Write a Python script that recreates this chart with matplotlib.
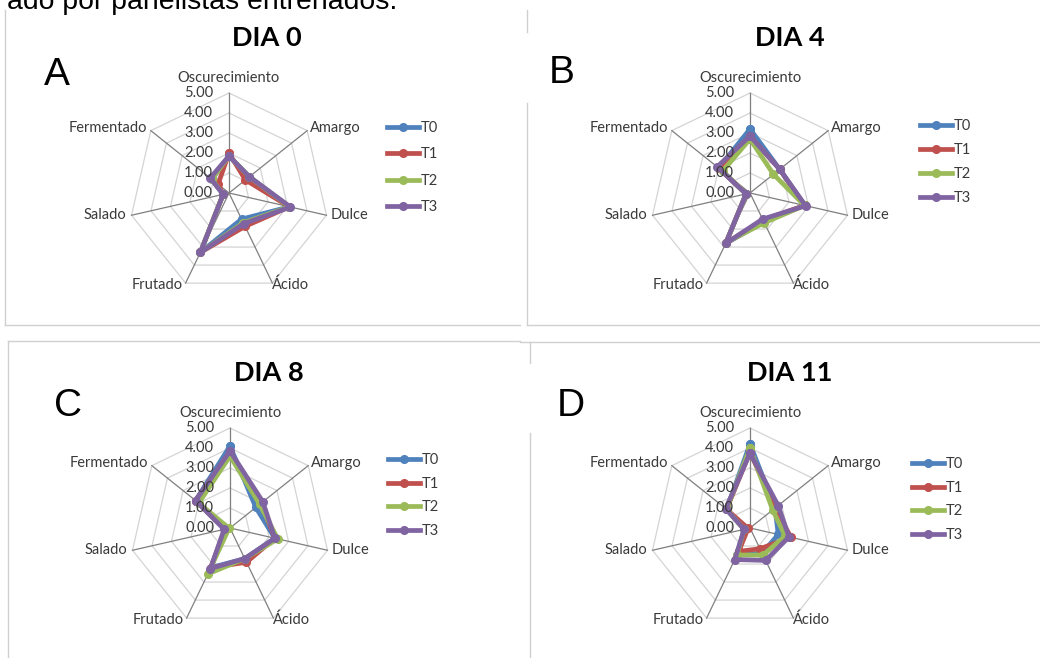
import numpy as np
import matplotlib

matplotlib.use("Agg")
import matplotlib.pyplot as plt
from matplotlib.lines import Line2D

W, H = 1040, 658
CATS = ["Oscurecimiento", "Amargo", "Dulce", "Ácido", "Frutado", "Salado", "Fermentado"]
SERIES = ["T0", "T1", "T2", "T3"]
COLORS = ["#4F81BD", "#C0504D", "#9BBB59", "#8064A2"]
RTICKS = [0, 1, 2, 3, 4, 5]

# rows: T0..T3, columns follow CATS
DIA0 = [
    [1.85, 1.30, 3.10, 1.45, 3.30, 0.30, 1.10],
    [2.00, 1.05, 3.10, 1.85, 3.30, 0.30, 0.70],
    [1.85, 1.30, 3.10, 1.65, 3.30, 0.30, 1.10],
    [1.85, 1.30, 3.15, 1.70, 3.30, 0.30, 1.20],
]
DIA4 = [
    [3.20, 1.90, 2.80, 1.60, 2.80, 0.20, 2.00],
    [2.85, 1.90, 2.80, 1.50, 2.80, 0.20, 2.00],
    [2.70, 1.50, 2.80, 1.65, 2.75, 0.20, 1.75],
    [2.85, 1.90, 2.85, 1.45, 2.80, 0.20, 2.10],
]
DIA8 = [
    [4.10, 1.65, 2.30, 1.70, 2.20, 0.25, 2.20],
    [3.80, 2.00, 2.30, 1.90, 2.20, 0.25, 2.20],
    [3.60, 1.90, 2.45, 1.70, 2.55, 0.05, 2.00],
    [3.85, 2.10, 2.30, 1.70, 2.25, 0.30, 2.20],
]
DIA11 = [
    [4.20, 1.60, 1.45, 1.40, 1.50, 0.30, 1.50],
    [3.80, 1.60, 2.10, 1.15, 1.30, 0.10, 1.50],
    [4.00, 1.45, 1.80, 1.50, 1.50, 0.30, 1.50],
    [3.75, 1.80, 2.00, 1.80, 1.75, 0.30, 1.55],
]

PANELS = [
    # data, title, letter, centre px, title px, letter px, legend px, legend spacing
    (DIA0, "DIA 0", "A", (229, 193), (267, 38), (57, 75), (387, 130), 0.85),
    (DIA4, "DIA 4", "B", (750, 193), (790, 38), (562, 73), (920, 128), 0.68),
    (DIA8, "DIA 8", "C", (230, 528), (269, 373), (68, 406), (388, 462), 0.66),
    (DIA11, "DIA 11", "D", (750, 528), (790, 373), (571, 406), (912, 466), 0.66),
]

# label offsets (pixels) from each outer vertex
LABEL_POS = [
    ((0, 15), "center", "center"),
    ((3, 3), "left", "center"),
    ((4, 0), "left", "center"),
    ((18, -2), "center", "center"),
    ((-3, -2), "right", "center"),
    ((-5, 0), "right", "center"),
    ((-4, 3), "right", "center"),
]

LABEL_FONT = ["Lato", "DejaVu Sans"]
RADIUS = 100  # pixels for r = 5

fig = plt.figure(figsize=(W / 100, H / 100), dpi=100)
fig.patch.set_facecolor("white")


def fx(px):
    return px / W


def fy(py):
    return 1 - py / H


theta = 2 * np.pi * np.arange(len(CATS)) / len(CATS)
theta_closed = np.append(theta, theta[0])

for data, title, letter, (cx, cy), (tx, ty), (lx, ly), (gx, gy), spacing in PANELS:
    ax = fig.add_axes([fx(cx - RADIUS), fy(cy + RADIUS), RADIUS * 2 / W, RADIUS * 2 / H],
                      projection="polar")
    ax.set_theta_zero_location("N")
    ax.set_theta_direction(-1)
    ax.set_ylim(0, 5)
    ax.grid(False)
    ax.spines["polar"].set_visible(False)
    ax.set_xticks([])
    ax.set_yticks([])
    ax.patch.set_alpha(0)

    for r in RTICKS[1:]:
        ax.plot(theta_closed, [r] * len(theta_closed), color="#D4D4D4", lw=0.9,
                zorder=1, clip_on=False)
    for t in theta:
        ax.plot([t, t], [0, 5], color="#7F7F7F", lw=0.9, zorder=2, clip_on=False)

    handles = []
    for name, color, vals in zip(SERIES, COLORS, data):
        vals = np.append(vals, vals[0])
        (ln,) = ax.plot(theta_closed, vals, color=color, lw=3.4, marker="o", ms=5.5,
                        label=name, zorder=3, clip_on=False)
        handles.append(ln)

    for r in RTICKS:
        ax.annotate(f"{r:.2f}", xy=(0, r), xytext=(-16, 0), textcoords="offset pixels",
                    ha="right", va="center", fontsize=10.5, family=LABEL_FONT,
                    color="#3A3A3A", zorder=4)

    for t, cat, (off, ha, va) in zip(theta, CATS, LABEL_POS):
        ax.annotate(cat, xy=(t, 5), xytext=off, textcoords="offset pixels",
                    ha=ha, va=va, fontsize=10.5, family=LABEL_FONT, color="#3A3A3A")

    fig.text(fx(tx), fy(ty), title, ha="center", va="center", fontsize=19.5,
             fontweight="bold", family=LABEL_FONT)
    fig.text(fx(lx), fy(ly), letter, ha="center", va="center", fontsize=28,
             family="Liberation Sans")

    leg = ax.legend(handles=handles, loc="upper left",
                    bbox_to_anchor=(fx(gx), fy(gy - 9)), bbox_transform=fig.transFigure,
                    frameon=False, handlelength=2.2, handletextpad=0.1,
                    labelspacing=spacing, borderpad=0, borderaxespad=0,
                    prop={"family": LABEL_FONT, "size": 10.5})
    for txt in leg.get_texts():
        txt.set_color("#3A3A3A")

# panel frames
FRAME = "#D0D0D0"
segments = [
    ((5, 10), (5, 325)), ((5, 325), (520, 325)),
    ((527, 10), (527, 32)), ((527, 103), (527, 325)), ((527, 325), (1040, 325)),
    ((8, 341), (520, 341)), ((8, 341), (8, 658)),
    ((520, 342), (1040, 342)), ((530, 342), (530, 363)), ((530, 433), (530, 658)),
]
for (x0, y0), (x1, y1) in segments:
    fig.add_artist(Line2D([fx(x0), fx(x1)], [fy(y0), fy(y1)], color=FRAME, lw=1.0))

# caption running in from above the figure
fig.text(fx(7), fy(9), "ado por panelistas entrenados.", ha="left", va="baseline",
         fontsize=20.4, family="Liberation Sans")

fig.savefig("out.png", dpi=100, facecolor="white")
